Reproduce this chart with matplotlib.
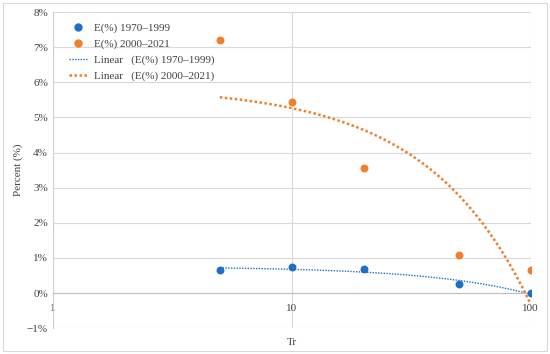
import numpy as np
import matplotlib
matplotlib.use("Agg")
import matplotlib.pyplot as plt
from matplotlib.patches import Rectangle
from matplotlib.ticker import FuncFormatter
from matplotlib.lines import Line2D

# data
tr = [5, 10, 20, 50, 100]
e_1970 = [0.65, 0.73, 0.68, 0.25, 0.0]
e_2000 = [7.2, 5.45, 3.57, 1.07, 0.65]
lab_1970 = "E(%) 1970\u20131999"
lab_2000 = "E(%) 2000\u20132021"
y_ticks = list(range(-1, 9))
x_ticks = [1, 10, 100]

BLUE, ORANGE = "#1F6FC8", "#F07F2A"
plt.rcParams["font.family"] = ["Liberation Serif", "DejaVu Serif"]
plt.rcParams["font.size"] = 8

fig = plt.figure(figsize=(5.5, 3.54), dpi=100)
fig.patches.append(Rectangle((0.006, 0.008), 0.988, 0.984, transform=fig.transFigure,
                             fill=False, ec="#d9d9d9", lw=0.8))
ax = fig.add_axes([0.096, 0.073, 0.869, 0.893])

# linear (Excel-style) trendlines, shown on the log axis
xs = np.geomspace(min(tr), max(tr), 200)
for ys, col in ((e_1970, BLUE), (e_2000, ORANGE)):
    k, b = np.polyfit(tr, ys, 1)
    lw = 1.0 if col == BLUE else 1.8
    ax.plot(xs, k * xs + b, color=col, ls=(0, (1, 1)), lw=lw, zorder=2)

ax.scatter(tr, e_1970, color=BLUE, s=22, zorder=3)
ax.scatter(tr, e_2000, color=ORANGE, s=22, zorder=3)

ax.set_xscale("log")
ax.set_xlim(1, 100)
ax.set_ylim(-1, 8)
ax.set_yticks(y_ticks)
ax.yaxis.set_major_formatter(FuncFormatter(lambda v, p: f"{v:.0f}%".replace("-", "\u2212")))
ax.set_xticks(x_ticks)
ax.set_xticklabels([str(v) for v in x_ticks])
ax.xaxis.set_minor_locator(matplotlib.ticker.NullLocator())
ax.spines["bottom"].set_position(("data", 0))
for s in ("top", "right"):
    ax.spines[s].set_visible(False)
ax.spines["left"].set_color("#d0d0d0")
ax.spines["bottom"].set_color("#bfbfbf")
ax.tick_params(length=0, colors="#404040", labelsize=8)
ax.tick_params(axis="x", pad=8)
ax.grid(True, color="#d9d9d9", lw=0.8)
ax.set_axisbelow(True)
ax.set_xlabel("Tr", fontsize=8, color="#404040")
ax.xaxis.set_label_coords(0.5, -0.03)
ax.set_ylabel("Percent (%)", fontsize=8, color="#404040", labelpad=3)

handles = [
    Line2D([], [], ls="", marker="o", color=BLUE, ms=5),
    Line2D([], [], ls="", marker="o", color=ORANGE, ms=5),
    Line2D([], [], ls=(0, (1, 1)), color=BLUE, lw=1.0),
    Line2D([], [], ls=(0, (1, 1)), color=ORANGE, lw=1.8),
]
labels = [lab_1970, lab_2000, "Linear   (" + lab_1970 + ")", "Linear   (" + lab_2000 + ")"]
ax.legend(handles, labels, loc="upper left", bbox_to_anchor=(0.018, 0.99), frameon=False,
          handlelength=1.6, labelspacing=0.55, fontsize=8, handletextpad=0.6,
          borderaxespad=0.3, labelcolor="#404040")

fig.savefig("out.png", dpi=100)
